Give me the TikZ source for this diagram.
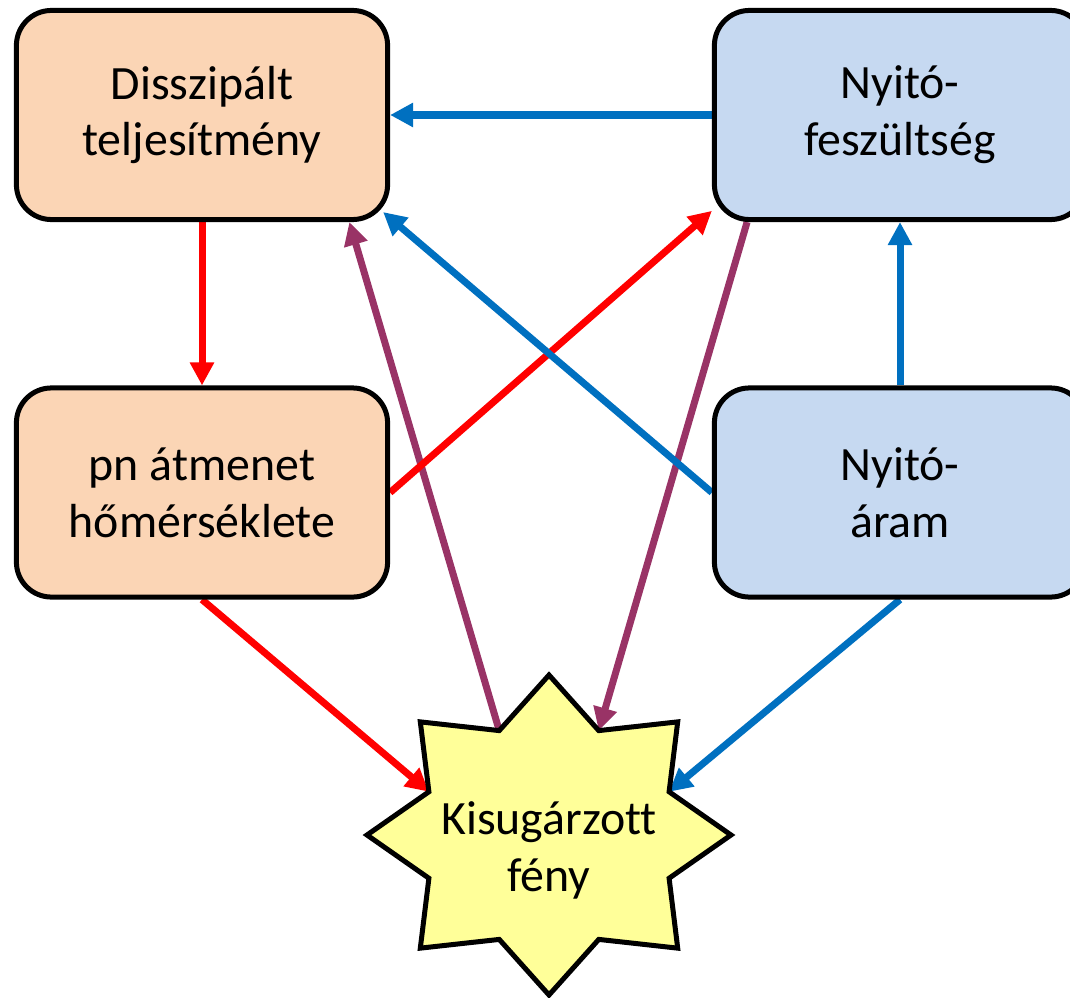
\documentclass[tikz,border=0pt]{standalone}
\usepackage{fontspec}
\setmainfont{Carlito}[Ligatures=NoCommon]
\usepackage{tikz}
\usetikzlibrary{arrows.meta}
\definecolor{Peach}{HTML}{FBD5B5}
\definecolor{PaleBlue}{HTML}{C6D9F1}
\definecolor{PaleYellow}{HTML}{FFFF99}
\definecolor{ArrowBlue}{HTML}{0070C0}
\definecolor{ArrowRed}{HTML}{FF0000}
\definecolor{Plum}{HTML}{993366}
\colorlet{Black}{black}
\pgfdeclarelayer{edgelayer}
\pgfdeclarelayer{nodelayer}
\pgfsetlayers{edgelayer,nodelayer,main}
\tikzstyle{none}=[inner sep=0pt]
\tikzstyle{ob}=[rectangle,rounded corners=0.35cm,fill=Peach,draw=Black,line width=0.05cm,minimum width=3.71cm,minimum height=2.09cm,align=center,font=\fontsize{13.6}{16.2}\selectfont]
\tikzstyle{bb}=[ob,fill=PaleBlue]
\tikzstyle{starshape}=[fill=PaleYellow,draw=Black,line width=0.05cm,line join=miter]
\tikzstyle{startext}=[inner sep=0pt,align=center,font=\fontsize{13.6}{16.2}\selectfont]
\tikzstyle{redarrow}=[-{Triangle[length=0.23cm,width=0.23cm]},draw=ArrowRed,line width=0.07cm]
\tikzstyle{bluearrow}=[-{Triangle[length=0.23cm,width=0.23cm]},draw=ArrowBlue,line width=0.07cm]
\tikzstyle{plumarrow}=[-{Triangle[length=0.23cm,width=0.23cm]},draw=Plum,line width=0.07cm]
\begin{document}
\begin{tikzpicture}[x=0.01cm,y=-0.01cm]
	\useasboundingbox (0,0) rectangle (1070,997);
	\begin{pgfonlayer}{nodelayer}
		\node [style=ob] (0) at (202, 115) {Disszipált\\teljesítmény};
		\node [style=bb] (1) at (900, 115) {Nyitó-\\feszültség};
		\node [style=ob] (2) at (202, 492.5) {pn átmenet\\hőmérséklete};
		\node [style=bb] (3) at (900, 492.5) {Nyitó-\\áram};
		\begin{scope}[shift={(549,835)}]
			\draw [style=starshape] (0:182 and 160) \foreach \a in {0,45,...,315} { -- (\a+22.5:130 and 113) -- (\a+45:182 and 160) } -- cycle;
			\node [style=startext] (4) at (0, 15) {Kisugárzott\\fény};
			\node [style=none] (5) at (247.5:130 and 113) {};
			\node [style=none] (6) at (292.5:130 and 113) {};
			\node [style=none] (7) at (202.5:130 and 113) {};
			\node [style=none] (8) at (337.5:130 and 113) {};
		\end{scope}
	\end{pgfonlayer}
	\begin{pgfonlayer}{edgelayer}
		\draw [style=plumarrow] (5.center) to (0.324);
		\draw [style=plumarrow] (1.215) to (6.center);
		\draw [style=redarrow] (0.south) to (2.north);
		\draw [style=redarrow] (2.east) to (1.207);
		\draw [style=redarrow] (2.south) to (7.center);
		\draw [style=bluearrow] (1.west) to (0.east);
		\draw [style=bluearrow] (3.west) to ([shift={(-7,-10)}]0.south east);
		\draw [style=bluearrow] (3.north) to (1.south);
		\draw [style=bluearrow] (3.south) to (8.center);
	\end{pgfonlayer}
\end{tikzpicture}
\end{document}
